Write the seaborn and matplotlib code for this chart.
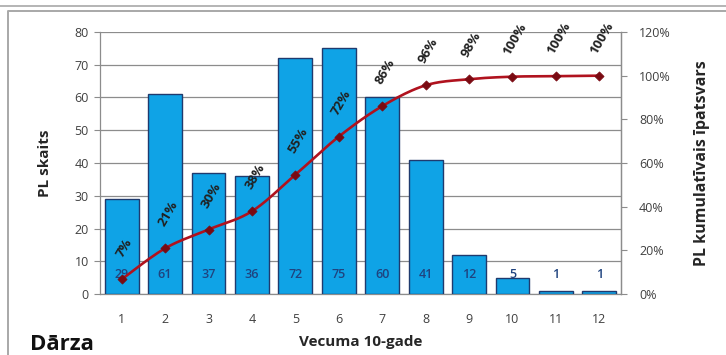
import numpy as np
import pandas as pd
import matplotlib
matplotlib.use("Agg")
import matplotlib.pyplot as plt
import seaborn as sns
from matplotlib.ticker import FixedLocator, FuncFormatter

# Age groups (10-year bands) and number of cases in each
groups = ["1", "2", "3", "4", "5", "6", "7", "8", "9", "10", "11", "12"]
counts = [29, 61, 37, 36, 72, 75, 60, 41, 12, 5, 1, 1]

# Cumulative share of all cases, in percent
cumulative_pct = list(np.cumsum(counts) / np.sum(counts) * 100)

left_ticks = [0, 10, 20, 30, 40, 50, 60, 70, 80]
right_ticks = [0, 20, 40, 60, 80, 100, 120]

sns.set_theme(style="white")
plt.rcParams["font.family"] = ["Open Sans", "DejaVu Sans"]

BAR = "#0fa3e6"
BAR_EDGE = "#1f3a6e"
LINE = "#b0121e"
MARK = "#7a0a12"
GRID = "#8c8c8c"
TICKTXT = "#404040"

df = pd.DataFrame({"group": groups, "count": counts, "cum": cumulative_pct})

W, H = 726, 355
fig = plt.figure(figsize=(W / 100, H / 100), dpi=100)
ax = fig.add_axes([100 / W, 1 - 294 / H, (621 - 100) / W, (294 - 32) / H])

sns.barplot(data=df, x="group", y="count", ax=ax, color=BAR, width=0.78,
            edgecolor=BAR_EDGE, linewidth=1.0, saturation=1, zorder=3)

ax.set_xlim(-0.5, len(groups) - 0.5)
ax.set_ylim(0, 80)
ax.yaxis.set_major_locator(FixedLocator(left_ticks))
ax.grid(axis="y", color=GRID, linewidth=0.9, zorder=0)
ax.set_axisbelow(True)

# category boundary ticks
ax.set_xticks(np.arange(-0.5, len(groups), 1.0), minor=True)
ax.tick_params(axis="x", which="minor", length=4, width=0.8, color=GRID, direction="out")
ax.tick_params(axis="x", which="major", length=0, pad=14, labelsize=9, labelcolor=TICKTXT)
ax.tick_params(axis="y", which="major", length=4, width=0.8, color=GRID, direction="out",
               labelsize=9, labelcolor=TICKTXT, pad=4)
for side in ["left", "bottom", "right"]:
    ax.spines[side].set_color(GRID)
    ax.spines[side].set_linewidth(0.9)
ax.spines["top"].set_visible(False)
ax.set_xlabel("Vecuma 10-gade", fontsize=11, fontweight="bold", labelpad=6)
ax.set_ylabel("PL skaits", fontsize=11, fontweight="bold", labelpad=16)

# count labels at the base of each bar
for i, c in enumerate(counts):
    ax.text(i, 6, f"{c}", ha="center", va="center", fontsize=9,
            color="#1f437f", fontweight="semibold", zorder=6)

# cumulative share on the secondary axis
ax2 = ax.twinx()
ax2.set_position(ax.get_position())
ax2.set_xlim(-0.5, len(groups) - 0.5)
ax2.set_ylim(0, 120)

# smoothed connecting curve (cardinal spline through the points)
xs = np.arange(len(cumulative_pct), dtype=float)
ys = np.array(cumulative_pct)
px = np.concatenate([[xs[0]], xs, [xs[-1]]])
py = np.concatenate([[ys[0]], ys, [ys[-1]]])
cx, cy = [], []
t = np.linspace(0, 1, 20)
for k in range(1, len(px) - 2):
    p0 = np.array([px[k], py[k]])
    p3 = np.array([px[k + 1], py[k + 1]])
    p1 = p0 + (np.array([px[k + 1], py[k + 1]]) - np.array([px[k - 1], py[k - 1]])) / 6
    p2 = p3 - (np.array([px[k + 2], py[k + 2]]) - np.array([px[k], py[k]])) / 6
    b = ((1 - t) ** 3)[:, None] * p0 + (3 * (1 - t) ** 2 * t)[:, None] * p1 \
        + (3 * (1 - t) * t ** 2)[:, None] * p2 + (t ** 3)[:, None] * p3
    cx.extend(b[:, 0]); cy.extend(b[:, 1])
ax2.plot(cx, cy, color=LINE, lw=1.9, zorder=4, solid_capstyle="round")

sns.scatterplot(data=df, x="group", y="cum", ax=ax2, color=MARK, marker="D",
                s=22, edgecolor=MARK, linewidth=0.5, zorder=5)

ax2.yaxis.set_major_locator(FixedLocator(right_ticks))
ax2.yaxis.set_major_formatter(FuncFormatter(lambda v, p: f"{v:.0f}%"))
ax2.tick_params(axis="y", which="major", length=4, width=0.8, color=GRID, direction="out",
                labelsize=9, labelcolor=TICKTXT, pad=9)
ax2.grid(False)
for side in ["left", "bottom", "top"]:
    ax2.spines[side].set_visible(False)
ax2.spines["right"].set_color(GRID)
ax2.spines["right"].set_linewidth(0.9)
ax2.set_ylabel("PL kumulatīvais īpatsvars", fontsize=11.5, fontweight="bold", labelpad=17)
ax2.set_xlabel("")
ax2.set_xlim(-0.5, len(groups) - 0.5)

for i, p in enumerate(cumulative_pct):
    ax2.annotate(f"{p:.0f}%", (i, p), xytext=(2, 14), textcoords="offset points",
                 ha="center", va="bottom", rotation=60, fontsize=9.5,
                 fontweight="bold", color="#202020", zorder=7)

# surrounding frame lines
fig.add_artist(plt.Line2D([0, 1], [1 - 6 / H, 1 - 6 / H], color="#a8a8a8", lw=1.2))
fig.add_artist(plt.Line2D([8 / W, 8 / W, 1], [0, 1 - 11 / H, 1 - 11 / H], color="#a8a8a8", lw=1.4))

fig.text(30 / W, 1 - 334 / H, "Dārza", fontsize=16, fontweight="bold", color="#111111",
         ha="left", va="top")

fig.savefig("out.png", dpi=100)
